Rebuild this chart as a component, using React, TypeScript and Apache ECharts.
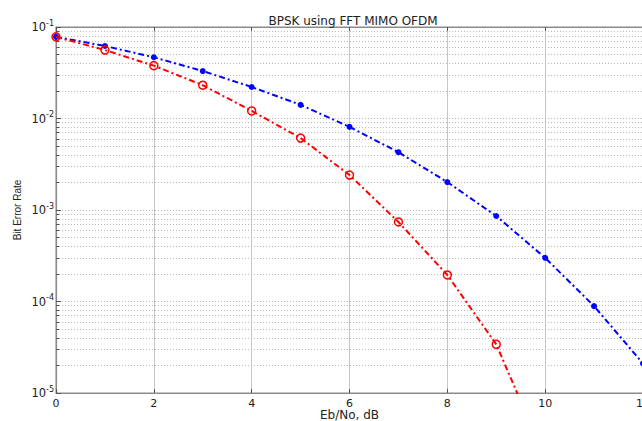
import React, { useEffect, useRef } from "react";
import * as echarts from "echarts";

const xValues = [0, 1, 2, 3, 4, 5, 6, 7, 8, 9, 10, 11, 12];
const blueBer = [0.078, 0.062, 0.0467, 0.033, 0.0221, 0.0141, 0.0081, 0.00428, 0.00202, 0.00086, 0.0003, 0.000089, 0.000021];
const redBer = [0.078, 0.056, 0.0378, 0.0231, 0.0121, 0.00612, 0.00241, 0.00074, 0.000195, 0.000034, 0.00000195];
const yDecadeExponents = [-5, -4, -3, -2, -1];
const minorMultipliers = [2, 3, 4, 5, 6, 7, 8, 9];

const WIDE = "DejaVu Sans, Verdana, sans-serif";
const FONT = "Liberation Sans, Arial, Helvetica, sans-serif";

export default function App() {
  const ref = useRef<HTMLDivElement>(null);
  useEffect(() => {
    document.body.style.margin = "0";
    const chart = echarts.init(ref.current!, null, { renderer: "svg" });
    const minorVals: number[] = [];
    yDecadeExponents.slice(0, -1).forEach((e) => {
      minorMultipliers.forEach((m) => minorVals.push(m * Math.pow(10, e)));
    });
    const gridColor = "#b8b8b8";
    const axisColor = "#8a8a8a";
    chart.setOption({
      animation: false,
      title: {
        text: "BPSK using FFT MIMO OFDM",
        left: 348,
        top: 9,
        textAlign: "center",
        textStyle: { fontFamily: WIDE, fontSize: 12, lineHeight: 13, fontWeight: "normal", color: "#222" },
      },
      grid: {
        left: 56,
        top: 27,
        right: -1,
        bottom: 28,
        outerBoundsMode: "none",
        containLabel: false,
        show: true,
        borderColor: axisColor,
        borderWidth: 1,
        backgroundColor: "#fff",
      },
      xAxis: [
        {
          type: "value",
          min: 0,
          max: 12,
          interval: 2,
          name: "Eb/No, dB",
          nameLocation: "middle",
          nameGap: 22,
          nameMoveOverlap: false,
          nameTextStyle: { fontFamily: WIDE, fontSize: 12, lineHeight: 11, color: "#222", verticalAlign: "middle" },
          axisLine: { show: true, lineStyle: { color: axisColor, width: 1.2 } },
          axisTick: { show: true, inside: true, length: 4, lineStyle: { color: "#555" } },
          axisLabel: { fontFamily: WIDE, fontSize: 11, lineHeight: 10, color: "#222", margin: 5 },
          splitLine: { show: true, lineStyle: { color: "#c6c6c6", width: 1 } },
        },
        {
          type: "value",
          position: "top",
          min: 0,
          max: 12,
          interval: 2,
          axisLine: { show: true, lineStyle: { color: axisColor, width: 1.2 } },
          axisTick: { show: true, inside: true, length: 4, lineStyle: { color: "#555" } },
          axisLabel: { show: false },
          splitLine: { show: false },
        },
      ],
      yAxis: {
        type: "log",
        logBase: 10,
        min: 1e-5,
        max: 1e-1,
        name: "Bit Error Rate",
        nameLocation: "middle",
        nameGap: 39,
        nameMoveOverlap: false,
        nameTextStyle: { fontFamily: FONT, fontSize: 10, color: "#222", verticalAlign: "middle" },
        axisLine: { show: true, lineStyle: { color: axisColor, width: 1.2 } },
        axisTick: { show: true, inside: true, length: 5, lineStyle: { color: "#555" } },
        axisLabel: {
          margin: 2,
          formatter: (v: number) => {
            const e = Math.round(Math.log10(v));
            return `{b|10}{s|${e}}`;
          },
          rich: {
            b: { fontFamily: WIDE, fontSize: 11.5, color: "#222" },
            s: { fontFamily: WIDE, fontSize: 8, color: "#222", padding: [0, 0, 8, 0] },
          },
        },
        splitLine: { show: true, lineStyle: { color: gridColor, width: 1, type: [1, 2] } },
      },
      series: [
        {
          type: "lines",
          coordinateSystem: "cartesian2d",
          silent: true,
          z: 1,
          lineStyle: { color: gridColor, width: 1, type: [1, 2], opacity: 1 },
          data: minorVals.map((v) => ({ coords: [[0, v], [12, v]] })),
        },
        {
          type: "lines",
          coordinateSystem: "cartesian2d",
          silent: true,
          z: 2,
          lineStyle: { color: "#555", width: 1, type: "solid", opacity: 1 },
          data: minorVals.map((v) => ({ coords: [[0, v], [0.07, v]] })),
        },
        {
          type: "line",
          data: xValues.map((x, i) => [x, blueBer[i]]),
          symbol: "circle",
          symbolSize: 6,
          itemStyle: { color: "#0000ff" },
          lineStyle: { color: "#0000ff", width: 2, type: [6, 3, 2, 3] },
          clip: true,
          z: 3,
        },
        {
          type: "line",
          data: xValues.slice(0, redBer.length).map((x, i) => [x, redBer[i]]),
          symbol: "circle",
          symbolSize: 8,
          itemStyle: { color: "rgba(255,255,255,0)", borderColor: "#ff0000", borderWidth: 1.5 },
          lineStyle: { color: "#ff0000", width: 2, type: [6, 3, 2, 3] },
          clip: true,
          z: 4,
        },
      ],
    });
    return () => chart.dispose();
  }, []);
  return <div ref={ref} style={{ width: 642, height: 421 }} />;
}
